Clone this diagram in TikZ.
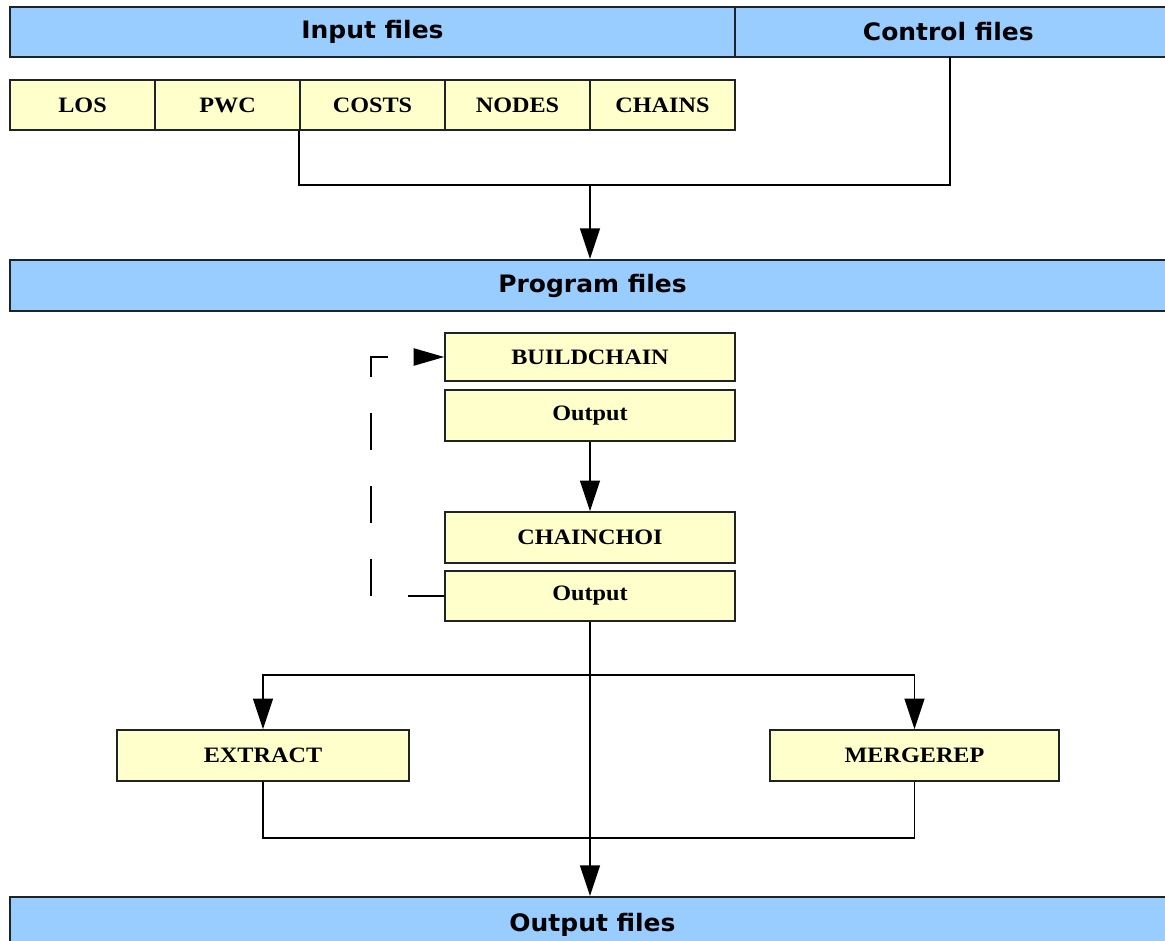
\documentclass[tikz,border=0pt]{standalone}
\usepackage{fontspec}
\usetikzlibrary{arrows.meta}
\newfontfamily\barfont[FakeStretch=1.04]{DejaVu Sans}
\newfontfamily\boxfont[FakeStretch=1.1]{Liberation Serif}
\definecolor{barblue}{HTML}{99CCFF}
\definecolor{boxyellow}{HTML}{FFFFCC}
\definecolor{edge}{HTML}{1E2328}
\begin{document}
\begin{tikzpicture}[x=0.75pt,y=-0.75pt,
  bar/.style={draw=edge,line width=1.5pt,fill=barblue,inner sep=0pt,
    font=\barfont\bfseries\fontsize{18pt}{20pt}\selectfont},
  ybox/.style={draw=edge,line width=1.2pt,fill=boxyellow,inner sep=0pt,
    font=\boxfont\bfseries\fontsize{16.5pt}{18pt}\selectfont},
  conn/.style={draw=black,line width=1.1pt},
  arr/.style={conn,-{Triangle[length=23pt,width=15pt]}},
  loopline/.style={conn,dash pattern=on 27.4pt off 27.4pt,
    -{Triangle[length=23pt,width=13pt]}}]
\clip (0,0) rectangle (1165,941);
\fill[white] (0,0) rectangle (1165,941);
% bars
\node[bar,minimum width=725*0.75pt,minimum height=50*0.75pt] (inbar) at (372.5,32) {Input files};
\node[bar,minimum width=440*0.75pt,minimum height=50*0.75pt] (ctlbar) at (955,32) {\hspace*{-10pt}Control files};
\node[bar,minimum width=1165*0.75pt,minimum height=51*0.75pt] (progbar) at (592.5,285.5) {Program files};
\node[bar,minimum width=1165*0.75pt,minimum height=56*0.75pt] (outbar) at (592.5,925) {\raisebox{3pt}{Output files}};
% input file boxes
\foreach \n/\t/\x in {los/LOS/82.5,pwc/PWC/227.5,costs/COSTS/372.5,nodes/NODES/517.5,chains/CHAINS/662.5}{
  \node[ybox,minimum width=145*0.75pt,minimum height=50*0.75pt] (\n) at (\x,105) {\t};
}
% program boxes
\node[ybox,minimum width=290*0.75pt,minimum height=48*0.75pt] (build) at (590,357) {BUILDCHAIN};
\node[ybox,minimum width=290*0.75pt,minimum height=51*0.75pt] (out1) at (590,415.5) {Output};
\node[ybox,minimum width=290*0.75pt,minimum height=51*0.75pt] (choi) at (590,537.5) {CHAINCHOI};
\node[ybox,minimum width=290*0.75pt,minimum height=50*0.75pt] (out2) at (590,596) {Output};
\node[ybox,minimum width=292*0.75pt,minimum height=51*0.75pt] (extract) at (263,755.5) {EXTRACT};
\node[ybox,minimum width=289*0.75pt,minimum height=51*0.75pt] (merge) at (914.5,755.5) {MERGEREP};
% connectors
\coordinate (j1) at (590,185);
\coordinate (j2) at (590,675);
\coordinate (ctlfoot) at (950,57);
\draw[conn] (costs.south west) |- (j1) -| (ctlfoot);
\draw[arr] (j1) -- (j1 |- progbar.north);
\draw[arr] (out1.south) -- (choi.north);
\draw[loopline] (out2.west) -- ++(-73,0) |- (build.west);
\draw[arr] (out2.south) -- (out2.south |- outbar.north);
\draw[arr] (j2) -| (extract.north);
\draw[arr] (j2) -| (merge.north);
\draw[conn] (extract.south) -- ++(0,56) -| (merge.south);
\end{tikzpicture}
\end{document}
